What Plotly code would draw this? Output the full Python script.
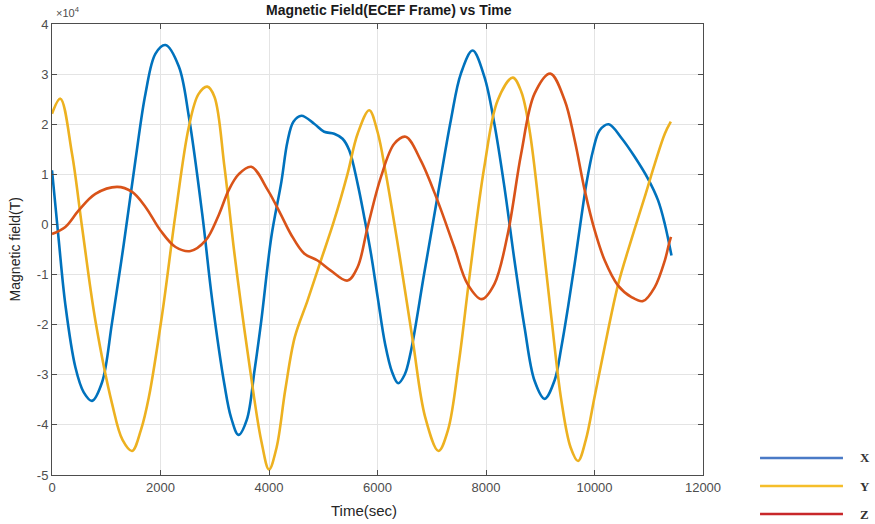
import plotly.graph_objects as go

# Time axis (sec) and field values (in units of 1e4, as shown by the axis multiplier)
t_x = [0,123,246,431,585,738,923,1108,1323,1538,1723,1908,2092,2338,2523,2769,2954,3179,3300,3438,3590,3735,3858,4043,
       4228,4340,4450,4598,4832,5017,5201,5356,5479,5634,5755,5879,6003,6141,6270,6380,6500,6612,6859,7105,7352,7537,
       7753,7969,8154,8339,8525,8710,8895,9080,9265,9389,9512,9635,9758,9850,9974,10096,10262,10500,10740,
       10987,11172,11296,11419]
bx = [1.08,-0.3,-1.6,-2.85,-3.35,-3.52,-3.15,-1.95,-0.39,1.28,2.61,3.41,3.58,3.15,2.15,0.21,-1.52,-3.2,-3.85,-4.2,
      -3.9,-2.9,-1.92,-0.25,0.85,1.65,2.05,2.17,2.01,1.85,1.81,1.71,1.48,0.81,0.15,-0.58,-1.45,-2.39,-2.95,-3.17,-3.0,-2.55,
      -0.99,0.55,2.08,3.01,3.47,2.95,2.01,0.75,-0.72,-2.05,-3.12,-3.48,-3.11,-2.45,-1.65,-0.78,0.15,0.81,1.48,
      1.88,2.0,1.72,1.35,0.91,0.48,0.01,-0.62]

t_y = [0,154,369,554,800,1108,1300,1477,1640,1785,2031,2277,2523,2700,2862,2994,3179,3364,3611,3858,4000,4140,4300,4475,4710,4956,
       5201,5448,5634,5848,6000,6156,6402,6649,6880,7124,7300,7500,7700,7969,8216,8494,8650,8800,9019,9204,9389,9560,
       9697,9840,10000,10158,10435,10681,10926,11111,11296,11407]
by = [2.21,2.51,1.41,-0.05,-1.92,-3.58,-4.3,-4.52,-4.1,-3.45,-1.79,0.21,1.95,2.6,2.75,2.55,1.15,-0.59,-2.59,-4.32,-4.89,-4.45,
      -3.3,-2.25,-1.52,-0.72,0.08,1.01,1.81,2.28,1.85,1.0,-0.59,-2.31,-3.85,-4.52,-4.1,-2.75,-1.0,1.15,2.48,2.93,2.65,1.9,
      -0.05,-1.85,-3.51,-4.45,-4.72,-4.3,-3.45,-2.6,-1.2,-0.3,0.55,1.21,1.81,2.05]

t_z = [0,246,492,800,1200,1477,1723,2000,2277,2554,2832,3070,3255,3439,3673,3981,4217,4401,4648,4895,5140,5448,
       5634,5818,6064,6309,6520,6797,7105,7414,7661,7920,8154,8401,8648,8895,9185,9450,9635,9820,10004,10189,
       10435,10681,10895,11111,11296,11370,11410]
bz = [-0.19,-0.05,0.28,0.61,0.75,0.65,0.35,-0.12,-0.45,-0.53,-0.32,0.18,0.68,1.0,1.15,0.68,0.2,-0.19,-0.58,-0.72,
      -0.92,-1.12,-0.85,-0.05,0.95,1.61,1.75,1.28,0.48,-0.45,-1.19,-1.49,-1.19,-0.19,1.41,2.61,3.01,2.48,1.68,
      0.68,-0.12,-0.72,-1.22,-1.45,-1.53,-1.25,-0.72,-0.4,-0.25]

x_ticks = [0, 2000, 4000, 6000, 8000, 10000, 12000]
y_ticks = [-5, -4, -3, -2, -1, 0, 1, 2, 3, 4]
series_names = ["X", "Y", "Z"]
colors = ["#0072BD", "#EDB120", "#D95319"]
legend_colors = ["#4A7AC6", "#F5BE2A", "#C8272A"]

fig = go.Figure()
for t, v, c, n in zip([t_x, t_y, t_z], [bx, by, bz], colors, series_names):
    fig.add_trace(go.Scatter(x=t, y=v, mode="lines", name=n, showlegend=False,
                             line=dict(color=c, width=2.6, shape="spline", smoothing=1.0)))

font_family = "Liberation Sans, Arial, sans-serif"
axis_common = dict(showgrid=True, gridcolor="#e4e4e4", gridwidth=1, showline=True, linecolor="#4d4d4d",
                   linewidth=1, mirror="ticks", ticks="inside", ticklen=5, tickcolor="#4d4d4d",
                   zeroline=False, tickfont=dict(family=font_family, size=13, color="#4d4d4d"))

fig.update_layout(
    width=875, height=524,
    margin=dict(l=52, r=172, t=24, b=49),
    paper_bgcolor="white", plot_bgcolor="white",
    xaxis=dict(range=[0, 12000], tickvals=x_ticks, ticktext=[str(v) for v in x_ticks], **axis_common),
    yaxis=dict(range=[-5, 4], tickvals=y_ticks, ticktext=[str(v) for v in y_ticks], **axis_common),
)

annotations = [
    dict(text="<b>Magnetic Field(ECEF Frame) vs Time</b>", x=0.518, y=1.03, xref="paper", yref="paper",
         showarrow=False, font=dict(family=font_family, size=14, color="#1a1a1a"), xanchor="center", yanchor="middle"),
    dict(text="Time(sec)", x=0.479, y=-0.078, xref="paper", yref="paper", showarrow=False,
         font=dict(family=font_family, size=15, color="#262626"), xanchor="center", yanchor="middle"),
    dict(text="Magnetic field(T)", x=-0.057, y=0.5, xref="paper", yref="paper", showarrow=False, textangle=-90,
         font=dict(family=font_family, size=14, color="#262626"), xanchor="center", yanchor="middle"),
    dict(text="×10<sup>4</sup>", x=0.003, y=1.027, xref="paper", yref="paper", showarrow=False,
         font=dict(family=font_family, size=11, color="#4d4d4d"), xanchor="left", yanchor="middle"),
]
shapes = []
leg_y = [0.0377, -0.0244, -0.0865]
for ly, c, n in zip(leg_y, legend_colors, series_names):
    shapes.append(dict(type="line", xref="paper", yref="paper", x0=1.0876, x1=1.215, y0=ly, y1=ly,
                       line=dict(color=c, width=2.5)))
    annotations.append(dict(text="<b>%s</b>" % n, x=1.238, y=ly, xref="paper", yref="paper", showarrow=False,
                            font=dict(family="Liberation Serif, Times New Roman, serif", size=13, color="#333333"),
                            xanchor="left", yanchor="middle"))
fig.update_layout(annotations=annotations, shapes=shapes)

fig.write_html("out.html")
